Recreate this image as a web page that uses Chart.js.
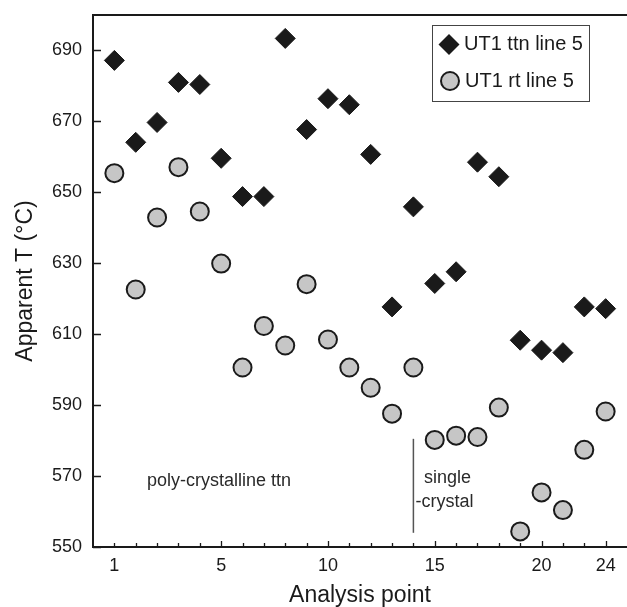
<!DOCTYPE html>
<html>
<head>
<meta charset="utf-8">
<script src="https://cdn.jsdelivr.net/npm/chart.js@4/dist/chart.umd.min.js"></script>
<style>
  body { margin: 0; background: #fff; }
  canvas { display: block; }
</style>
</head>
<body>
<canvas id="myChart" width="627" height="607"></canvas>
<script>
// analysis points and the two temperature series
const pointNo = [1, 2, 3, 4, 5, 6, 7, 8, 9, 10, 11, 12, 13, 14, 15, 16, 17, 18, 19, 20, 21, 22, 23, 24];
const ttnLine5 = [687.2, 664.1, 669.7, 681.0, 680.4, 659.6, 648.8, 648.8, 693.4, 667.7, 676.4, 674.7,
                  660.7, 617.7, 645.9, 624.3, 627.6, 658.5, 654.4, 608.3, 605.5, 604.8, 617.7, 617.2];
const rtLine5 = [655.4, 622.6, 642.9, 657.1, 644.6, 629.9, 600.6, 612.3, 606.8, 624.1, 608.5, 600.6,
                 594.9, 587.6, 600.6, 580.2, 581.4, 581.0, 589.3, 554.4, 565.4, 560.4, 577.4, 588.2];
const seriesNames = ['UT1 ttn line 5', 'UT1 rt line 5'];

// tick labels
const yTickValues = [550, 570, 590, 610, 630, 650, 670, 690];
const xTickPositions = [1, 6, 11, 16, 21, 24];
const xTickLabels = ['1', '5', '10', '15', '20', '24'];

// notes written inside the plot
const noteTexts = ['poly-crystalline ttn', 'single', '-crystal'];

const FONT = '"Liberation Sans", Arial, Helvetica, sans-serif';
const INK = '#1a1a1a';

// chart.js pads the area for edge tick labels, the figure does not
function noEdgePad(s) {
  s.paddingTop = 0; s.paddingBottom = 0; s.paddingLeft = 0; s.paddingRight = 0;
}

// plot frame runs to the right edge of the canvas
const fullWidth = {
  id: 'fullWidth',
  afterLayout(chart) {
    const a = chart.chartArea;
    a.right = chart.width;
    a.width = a.right - a.left;
    const x = chart.scales.x;
    x.right = a.right;
    x.width = a.width;
    x.configure();
  }
};

// top line, inward ticks, notes and the boxed legend
const extras = {
  id: 'extras',
  beforeDatasetsDraw(chart) {
    const {ctx, chartArea: a, scales: {x, y}} = chart;
    ctx.save();
    ctx.strokeStyle = INK;
    ctx.lineWidth = 2;
    ctx.beginPath();
    ctx.moveTo(a.left - 1, a.top);
    ctx.lineTo(a.right, a.top);
    ctx.stroke();

    ctx.lineWidth = 1.3;
    ctx.beginPath();
    y.ticks.forEach(t => {
      const py = Math.round(y.getPixelForValue(t.value)) + 0.5;
      ctx.moveTo(a.left, py);
      ctx.lineTo(a.left + 8, py);
    });
    x.ticks.forEach(t => {
      const px = Math.round(x.getPixelForValue(t.value)) + 0.5;
      const len = (xTickPositions.includes(t.value) && t.value !== 1) ? 6 : 4;
      ctx.moveTo(px, a.bottom);
      ctx.lineTo(px, a.bottom - len);
    });
    ctx.stroke();

    // divider between poly-crystalline and single crystal points
    ctx.strokeStyle = '#555';
    ctx.lineWidth = 1.5;
    ctx.beginPath();
    ctx.moveTo(x.getPixelForValue(15), y.getPixelForValue(554));
    ctx.lineTo(x.getPixelForValue(15), y.getPixelForValue(580.5));
    ctx.stroke();

    ctx.fillStyle = '#2a2a2a';
    ctx.font = '18px ' + FONT;
    ctx.textBaseline = 'middle';
    ctx.textAlign = 'center';
    ctx.fillText(noteTexts[0], x.getPixelForValue(5.9), y.getPixelForValue(568.7));
    ctx.textAlign = 'left';
    ctx.fillText(noteTexts[1], x.getPixelForValue(15.5), y.getPixelForValue(569.5));
    ctx.fillText(noteTexts[2], x.getPixelForValue(15.1), y.getPixelForValue(562.6));
    ctx.restore();
  },
  afterDraw(chart) {
    const {ctx, chartArea: a} = chart;
    const bx = a.right - 195, by = a.top + 10, bw = 157, bh = 76;
    ctx.save();
    ctx.fillStyle = '#fff';
    ctx.fillRect(bx, by, bw, bh);
    ctx.strokeStyle = '#444';
    ctx.lineWidth = 1;
    ctx.strokeRect(bx + 0.5, by + 0.5, bw, bh);

    // diamond
    const dx = bx + 17, dy = by + 19.5, r = 10.5;
    ctx.fillStyle = INK;
    ctx.beginPath();
    ctx.moveTo(dx - r, dy); ctx.lineTo(dx, dy - r); ctx.lineTo(dx + r, dy); ctx.lineTo(dx, dy + r);
    ctx.closePath();
    ctx.fill();
    // circle
    const cx = bx + 18, cy = by + 56;
    ctx.fillStyle = '#c6c6c6';
    ctx.strokeStyle = INK;
    ctx.lineWidth = 2;
    ctx.beginPath();
    ctx.arc(cx, cy, 9, 0, Math.PI * 2);
    ctx.fill();
    ctx.stroke();

    ctx.fillStyle = INK;
    ctx.font = '20px ' + FONT;
    ctx.textBaseline = 'middle';
    ctx.textAlign = 'left';
    ctx.fillText(seriesNames[0], bx + 32, dy);
    ctx.fillText(seriesNames[1], bx + 33, cy);
    ctx.restore();
  }
};

const ctx = document.getElementById('myChart').getContext('2d');
new Chart(ctx, {
  type: 'scatter',
  data: {
    datasets: [{
      label: seriesNames[0],
      data: pointNo.map((n, i) => ({x: n, y: ttnLine5[i]})),
      pointStyle: 'rectRot',
      pointRadius: 10,
      backgroundColor: INK,
      borderColor: INK,
      borderWidth: 1
    }, {
      label: seriesNames[1],
      data: pointNo.map((n, i) => ({x: n, y: rtLine5[i]})),
      pointStyle: 'circle',
      pointRadius: 9,
      backgroundColor: '#c6c6c6',
      borderColor: INK,
      borderWidth: 2
    }]
  },
  options: {
    responsive: false,
    animation: false,
    layout: {padding: {top: 15, right: 0, bottom: 0, left: 0}},
    plugins: {
      legend: {display: false},
      tooltip: {enabled: false}
    },
    scales: {
      x: {
        type: 'linear',
        min: 0,
        max: 25,
        afterBuildTicks: s => { s.ticks = pointNo.map(v => ({value: v})); },
        afterFit: s => { s.height = 60; noEdgePad(s); },
        grid: {display: false, drawTicks: false},
        border: {display: true, color: INK, width: 2},
        ticks: {
          autoSkip: false,
          maxRotation: 0,
          padding: 8,
          color: INK,
          font: {family: FONT, size: 18},
          callback: function (value) {
            const k = xTickPositions.indexOf(value);
            return k >= 0 ? xTickLabels[k] : '';
          }
        },
        title: {
          display: true,
          text: 'Analysis point',
          color: INK,
          padding: 0,
          font: {family: FONT, size: 23, lineHeight: 1}
        }
      },
      y: {
        min: 550,
        max: 700,
        afterBuildTicks: s => { s.ticks = yTickValues.map(v => ({value: v})); },
        afterFit: s => { s.width = 93; noEdgePad(s); },
        grid: {display: false, drawTicks: false},
        border: {display: true, color: INK, width: 2},
        ticks: {
          padding: 11,
          color: INK,
          font: {family: FONT, size: 18}
        },
        title: {
          display: true,
          text: 'Apparent T (°C)',
          color: INK,
          padding: {top: 14, bottom: 0},
          font: {family: FONT, size: 23, lineHeight: 1}
        }
      }
    }
  },
  plugins: [fullWidth, extras]
});
</script>
</body>
</html>
